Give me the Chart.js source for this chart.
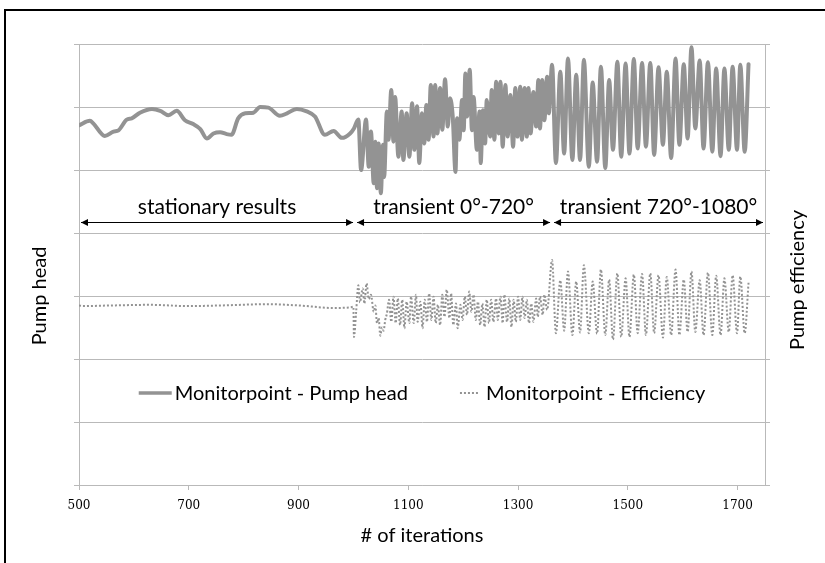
<!DOCTYPE html>
<html>
<head>
<meta charset="utf-8">
<script src="https://cdn.jsdelivr.net/npm/chart.js@4.4.1/dist/chart.umd.min.js"></script>
<style>
  html, body { margin: 0; padding: 0; background: #fff; }
  #wrap { position: relative; width: 825px; height: 563px; overflow: hidden; }
  #frame { position: absolute; left: 4px; top: 9px; width: 900px; height: 700px;
           border-left: 2px solid #000; border-top: 2px solid #000; }
  #chart { position: absolute; left: 0; top: 0; }
</style>
</head>
<body>
<div id="wrap">
  <div id="frame"></div>
  <canvas id="chart" width="825" height="563"></canvas>
</div>
<script>
// 横軸（反復回数）の目盛
const X_TICKS = [500, 700, 900, 1100, 1300, 1500, 1700];

// 区間の境界と区間名
const SECTION_BOUNDS = [500, 1003, 1362, 1750];
const SECTION_LABELS = ['stationary results', 'transient 0°-720°', 'transient 720°-1080°'];

const SERIES_LABELS = ['Monitorpoint - Pump head', 'Monitorpoint - Efficiency'];
const AXIS_TITLES = { x: '# of iterations', left: 'Pump head', right: 'Pump efficiency' };

// Pump head (反復回数, 値). 縦軸は目盛線1本=1の相対値
const HEAD_ITER = [
  500, 520, 526, 547, 563, 572, 587, 596, 611, 633, 648, 663, 678, 693, 708, 721, 733, 745,
  757, 769, 778, 790, 803, 818, 830, 845, 866, 879, 897, 915, 930, 948, 964, 979, 994, 1001,
  1009, 1014, 1023, 1028, 1032, 1037, 1040, 1043, 1046, 1050, 1054, 1056, 1061, 1064, 1069, 1073,
  1076, 1082, 1088, 1091, 1097, 1102, 1107, 1111, 1116, 1120, 1125, 1129, 1133, 1137, 1141, 1146,
  1149, 1153, 1158, 1162, 1167, 1172, 1176, 1181, 1186, 1189, 1193, 1198, 1201, 1204, 1207, 1212,
  1216, 1219, 1225, 1230, 1232, 1236, 1240, 1243, 1249, 1252, 1257, 1260, 1265, 1268, 1272, 1277,
  1281, 1286, 1291, 1295, 1299, 1304, 1307, 1312, 1316, 1319, 1323, 1328, 1333, 1337, 1340, 1344,
  1348, 1353, 1356, 1362,
  1369, 1377, 1384, 1391, 1399, 1406, 1413, 1420, 1429, 1436, 1444, 1451, 1459, 1466, 1473, 1481,
  1488, 1496, 1503, 1511, 1518, 1526, 1533, 1541, 1548, 1556, 1564, 1571, 1579, 1587, 1594, 1602,
  1609, 1616, 1623, 1631, 1638, 1646, 1654, 1661, 1669, 1676, 1684, 1691, 1699, 1705, 1713, 1720
];
const HEAD_VALUE = [
  5.71, 5.78, 5.74, 5.54, 5.61, 5.63, 5.80, 5.82, 5.91, 5.97, 5.94, 5.87, 5.94, 5.79, 5.73, 5.65, 5.50, 5.58,
  5.60, 5.57, 5.56, 5.82, 5.90, 5.91, 6.00, 5.99, 5.86, 5.90, 5.97, 5.93, 5.85, 5.56, 5.62, 5.51, 5.58, 5.66,
  5.80, 5.00, 5.80, 5.05, 5.61, 4.79, 5.45, 4.71, 5.42, 4.63, 5.40, 4.89, 5.93, 5.48, 6.27, 5.45,
  6.16, 5.21, 5.93, 5.16, 5.90, 5.21, 6.06, 5.32, 6.01, 5.11, 5.90, 5.42, 6.03, 5.48, 6.35, 5.53,
  6.35, 5.58, 6.30, 5.64, 6.44, 5.69, 6.14, 5.85, 4.97, 5.82, 5.48, 6.11, 5.63, 6.53, 5.85, 6.59,
  5.63, 6.16, 5.32, 5.93, 5.11, 5.95, 5.42, 6.11, 5.53, 6.27, 5.48, 6.40, 5.58, 6.40, 5.37, 6.35,
  5.53, 6.19, 5.37, 6.30, 5.53, 6.32, 5.48, 6.30, 5.53, 6.30, 5.58, 6.24, 5.69, 6.43, 5.66, 6.43,
  5.79, 6.48, 5.90, 6.67,
  5.11, 6.56, 5.26, 6.77, 5.16, 6.51, 5.16, 6.75, 5.05, 6.39, 5.13, 6.64, 5.03, 6.43, 5.32, 6.72,
  5.21, 6.69, 5.26, 6.76, 5.34, 6.70, 5.37, 6.70, 5.24, 6.63, 5.40, 6.56, 5.19, 6.77, 5.40, 6.68,
  5.50, 6.95, 5.66, 6.74, 5.34, 6.71, 5.29, 6.61, 5.22, 6.61, 5.32, 6.64, 5.32, 6.67, 5.29, 6.68
];

// Efficiency (反復回数, 値)
const EFF_ITER = [
  500, 507, 560, 629, 700, 760, 843, 900, 963, 995, 1000,
  1001, 1005, 1009, 1012, 1017, 1020, 1024, 1028, 1032, 1037, 1040, 1043, 1046, 1049, 1052, 1055, 1058, 1061,
  1065, 1069, 1073, 1077, 1081, 1085, 1089, 1093, 1097, 1102, 1105, 1110, 1114, 1117, 1122, 1126,
  1130, 1134, 1138, 1142, 1146, 1150, 1154, 1158, 1162, 1166, 1170, 1175, 1178, 1182, 1187, 1190,
  1195, 1199, 1203, 1207, 1211, 1215, 1219, 1223, 1227, 1231, 1235, 1239, 1243, 1247, 1251, 1255,
  1260, 1263, 1268, 1272, 1275, 1280, 1284, 1288, 1292, 1296, 1300, 1304, 1308, 1312, 1316, 1320,
  1324, 1328, 1333, 1336, 1340, 1345, 1348, 1353,
  1362, 1369, 1377, 1384, 1391, 1399, 1406, 1413, 1420, 1429, 1436, 1444, 1451, 1459, 1466, 1473,
  1481, 1488, 1496, 1503, 1511, 1518, 1526, 1533, 1541, 1548, 1556, 1564, 1571, 1579, 1587, 1594,
  1602, 1609, 1616, 1623, 1631, 1638, 1646, 1654, 1661, 1669, 1676, 1684, 1691, 1699, 1705, 1713, 1720
];
const EFF_VALUE = [
  2.85, 2.84, 2.85, 2.86, 2.84, 2.85, 2.87, 2.85, 2.81, 2.82, 2.83,
  2.35, 2.75, 3.17, 2.90, 3.12, 2.88, 3.20, 2.95, 3.02, 2.75, 2.85, 2.57, 2.65, 2.37, 2.50, 2.45, 2.62, 2.72,
  2.94, 2.59, 2.99, 2.57, 2.96, 2.54, 2.94, 2.49, 2.91, 2.57, 2.99, 2.57, 3.02, 2.59, 2.91, 2.49,
  2.94, 2.59, 3.04, 2.62, 2.99, 2.57, 2.86, 2.54, 3.02, 2.67, 3.10, 2.65, 3.04, 2.54, 2.88, 2.49,
  2.86, 2.62, 2.99, 2.70, 3.07, 2.75, 3.02, 2.62, 2.91, 2.54, 2.88, 2.51, 2.94, 2.57, 2.94, 2.59,
  2.96, 2.62, 2.99, 2.57, 3.02, 2.59, 2.96, 2.51, 2.94, 2.59, 2.99, 2.62, 2.99, 2.65, 2.94, 2.57,
  2.88, 2.59, 2.96, 2.67, 2.99, 2.70, 3.02, 2.78,
  3.57, 2.41, 3.25, 2.45, 3.39, 2.38, 3.23, 2.42, 3.49, 2.41, 3.23, 2.40, 3.42, 2.38, 3.26, 2.31,
  3.36, 2.35, 3.28, 2.35, 3.34, 2.41, 3.35, 2.38, 3.36, 2.41, 3.33, 2.34, 3.30, 2.38, 3.42, 2.38,
  3.26, 2.43, 3.39, 2.43, 3.25, 2.38, 3.37, 2.38, 3.32, 2.38, 3.28, 2.43, 3.33, 2.41, 3.31, 2.41, 3.21
];

const GRID_COLOR = '#b9b9b9';
const SERIES_COLOR = '#939393';
const TEXT_FONT = 'Lato, "Open Sans", sans-serif';

/**
 * 区間矢印・凡例・軸タイトルを描く
 */
const annotatePlugin = {
  id: 'annotate',
  afterDraw(chart, args, opts) {
    const { ctx, chartArea } = chart;
    const x = chart.scales.x;
    const y = chart.scales.y;
    ctx.save();

    // 区間の矢印
    const arrowY = Math.round(y.getPixelForValue(opts.arrowLevel)) + 0.5;
    ctx.strokeStyle = '#000';
    ctx.fillStyle = '#000';
    ctx.lineWidth = 1;
    ctx.font = '21px ' + TEXT_FONT;
    ctx.textAlign = 'center';
    ctx.textBaseline = 'alphabetic';
    for (let i = 0; i < SECTION_LABELS.length; i++) {
      const x0 = x.getPixelForValue(SECTION_BOUNDS[i]) + 2;
      const x1 = x.getPixelForValue(SECTION_BOUNDS[i + 1]) - 2;
      ctx.beginPath();
      ctx.moveTo(x0, arrowY);
      ctx.lineTo(x1, arrowY);
      ctx.stroke();
      // 両端の矢じり
      ctx.beginPath();
      ctx.moveTo(x0, arrowY);
      ctx.lineTo(x0 + 7, arrowY - 3.5);
      ctx.lineTo(x0 + 7, arrowY + 3.5);
      ctx.closePath();
      ctx.moveTo(x1, arrowY);
      ctx.lineTo(x1 - 7, arrowY - 3.5);
      ctx.lineTo(x1 - 7, arrowY + 3.5);
      ctx.closePath();
      ctx.fill();
      ctx.fillText(SECTION_LABELS[i], (x0 + x1) / 2, arrowY - 9);
    }

    // 凡例（プロット内）
    const legendY = Math.round(y.getPixelForValue(opts.legendLevel));
    ctx.font = '20px ' + TEXT_FONT;
    ctx.textAlign = 'left';
    ctx.textBaseline = 'middle';
    const w0 = ctx.measureText(chart.data.datasets[0].label).width;
    const w1 = ctx.measureText(chart.data.datasets[1].label).width;
    const total = 33 + 3 + w0 + 52 + 20 + 6 + w1;
    let lx = (chartArea.left + chartArea.right) / 2 - total / 2;
    ctx.strokeStyle = SERIES_COLOR;
    ctx.lineWidth = 3.5;
    ctx.beginPath();
    ctx.moveTo(lx, legendY);
    ctx.lineTo(lx + 33, legendY);
    ctx.stroke();
    lx += 36;
    ctx.fillStyle = '#000';
    ctx.fillText(chart.data.datasets[0].label, lx, legendY + 1);
    lx += w0 + 52;
    ctx.lineWidth = 2;
    ctx.setLineDash([2, 2]);
    ctx.beginPath();
    ctx.moveTo(lx, legendY);
    ctx.lineTo(lx + 20, legendY);
    ctx.stroke();
    ctx.setLineDash([]);
    lx += 26;
    ctx.fillText(chart.data.datasets[1].label, lx, legendY + 1);

    // 軸タイトル
    ctx.textAlign = 'center';
    ctx.textBaseline = 'middle';
    ctx.fillText(AXIS_TITLES.x, (chartArea.left + chartArea.right) / 2, 536);
    ctx.save();
    ctx.translate(40, 296);
    ctx.rotate(-Math.PI / 2);
    ctx.fillText(AXIS_TITLES.left, 0, 0);
    ctx.restore();
    ctx.save();
    ctx.translate(798, 280);
    ctx.rotate(-Math.PI / 2);
    ctx.fillText(AXIS_TITLES.right, 0, 0);
    ctx.restore();

    ctx.restore();
  }
};

const headPoints = HEAD_ITER.map((it, i) => ({ x: it, y: HEAD_VALUE[i] }));
const effPoints = EFF_ITER.map((it, i) => ({ x: it, y: EFF_VALUE[i] }));

new Chart(document.getElementById('chart'), {
  type: 'line',
  data: {
    datasets: [
      {
        label: SERIES_LABELS[0],
        data: headPoints,
        borderColor: SERIES_COLOR,
        borderWidth: 4,
        pointRadius: 0,
        cubicInterpolationMode: 'monotone',
        borderJoinStyle: 'round',
        borderCapStyle: 'round',
      },
      {
        label: SERIES_LABELS[1],
        data: effPoints,
        borderColor: SERIES_COLOR,
        borderWidth: 2,
        borderDash: [2, 2],
        pointRadius: 0,
        cubicInterpolationMode: 'monotone',
      },
    ],
  },
  options: {
    responsive: false,
    animation: false,
    layout: { padding: { top: 44, left: 0, right: 0, bottom: 0 } },
    scales: {
      x: {
        type: 'linear',
        min: 500,
        max: 1750,
        afterBuildTicks: (s) => { s.ticks = X_TICKS.map((v) => ({ value: v })); },
        afterFit: (s) => { s.height = 78; },
        grid: { drawOnChartArea: false, drawTicks: true, tickLength: 5, color: GRID_COLOR },
        border: { display: true, color: GRID_COLOR, width: 1 },
        ticks: {
          color: '#000',
          padding: 9,
          maxRotation: 0,
          callback: (v) => String(v),
          font: { family: '"DejaVu Serif", serif', size: 12 },
        },
      },
      y: {
        position: 'left',
        min: 0,
        max: 7,
        afterFit: (s) => { s.width = 79; },
        grid: { color: GRID_COLOR, drawTicks: true, tickLength: 5 },
        border: { display: true, color: GRID_COLOR },
        ticks: { display: false, stepSize: 1 },
      },
      y2: {
        position: 'right',
        min: 0,
        max: 7,
        afterFit: (s) => { s.width = 60; },
        grid: { drawOnChartArea: false, drawTicks: true, tickLength: 5, color: GRID_COLOR },
        border: { display: true, color: GRID_COLOR },
        ticks: { display: false, stepSize: 1 },
      },
    },
    plugins: {
      legend: { display: false },
      tooltip: { enabled: false },
      annotate: { arrowLevel: 4.17, legendLevel: 1.46 },
    },
  },
  plugins: [annotatePlugin],
});
</script>
</body>
</html>
